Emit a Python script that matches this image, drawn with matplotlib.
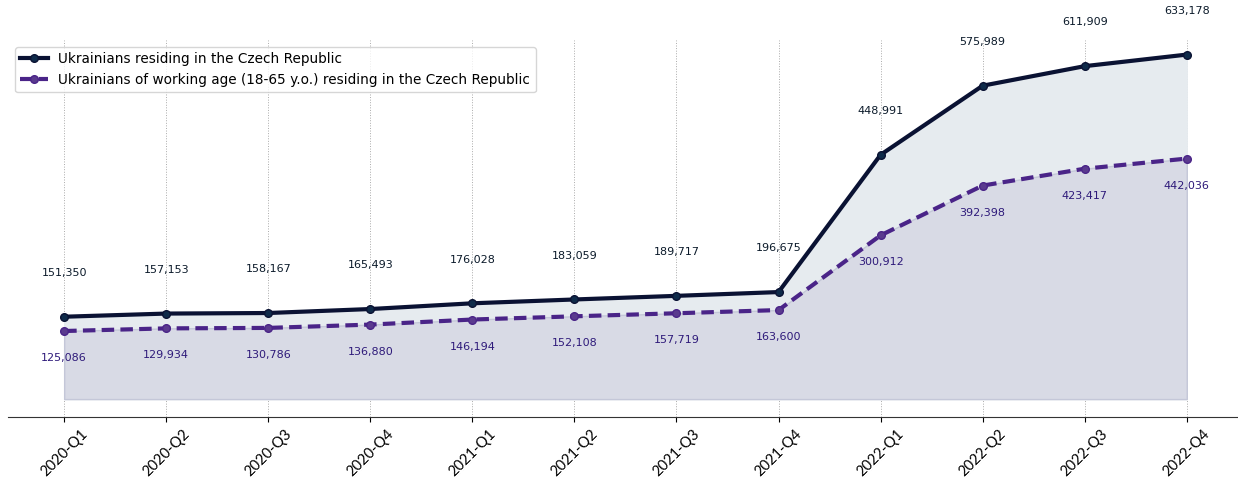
import matplotlib.pyplot as plt
import numpy as np

# quarters and counts
quarters = ["2020-Q1", "2020-Q2", "2020-Q3", "2020-Q4",
            "2021-Q1", "2021-Q2", "2021-Q3", "2021-Q4",
            "2022-Q1", "2022-Q2", "2022-Q3", "2022-Q4"]
total = [151350, 157153, 158167, 165493, 176028, 183059,
         189717, 196675, 448991, 575989, 611909, 633178]
working_age = [125086, 129934, 130786, 136880, 146194, 152108,
               157719, 163600, 300912, 392398, 423417, 442036]

x = np.arange(len(quarters))

fig = plt.figure(figsize=(12.38, 4.79), dpi=100)
ax = fig.add_axes([0.0065, 0.1294, 0.9925, 0.7871])

# filled areas under both lines
ax.fill_between(x, total, color="#e6ebef", zorder=1)
ax.fill_between(x, working_age, facecolor="#d8dae5", edgecolor="#c4c7d8",
                linewidth=1, zorder=1)

ax.plot(x, total, color="#0a1233", linewidth=3, marker="o", markersize=5.5,
        markerfacecolor="#0f2b4a", markeredgecolor="#0a1233", zorder=3,
        label="Ukrainians residing in the Czech Republic")
ax.plot(x, working_age, color="#4a2488", linewidth=3, linestyle="--",
        dashes=(3, 1.5), marker="o", markersize=5.5,
        markerfacecolor="#5a3a8e", markeredgecolor="#4a2488", zorder=3,
        label="Ukrainians of working age (18-65 y.o.) residing in the Czech Republic")

# value labels
for xi, v in zip(x, total):
    ax.annotate(f"{v:,}", (xi, v), xytext=(0, 31.5), textcoords="offset points",
                ha="center", va="center", fontsize=8, color="#0b1a2a",
                annotation_clip=False)
for xi, v in zip(x, working_age):
    ax.annotate(f"{v:,}", (xi, v), xytext=(0, -19.5), textcoords="offset points",
                ha="center", va="center", fontsize=8, color="#2e1a7a",
                annotation_clip=False)

ax.set_xlim(-0.55, 11.49)
ax.set_ylim(-33000, 660000)
ax.set_xticks(x)
ax.set_xticklabels(quarters, rotation=45, fontsize=10.5, family="Lato")
ax.set_yticks([])
ax.grid(axis="x", color="#aaaaaa", linestyle=":", linewidth=0.7)
ax.set_axisbelow(True)
for s in ["top", "right", "left"]:
    ax.spines[s].set_visible(False)
ax.spines["bottom"].set_color("#333333")

ax.legend(loc="upper left", fontsize=9.8, bbox_to_anchor=(0.0, 1.0))

fig.savefig("out.png", dpi=100)
